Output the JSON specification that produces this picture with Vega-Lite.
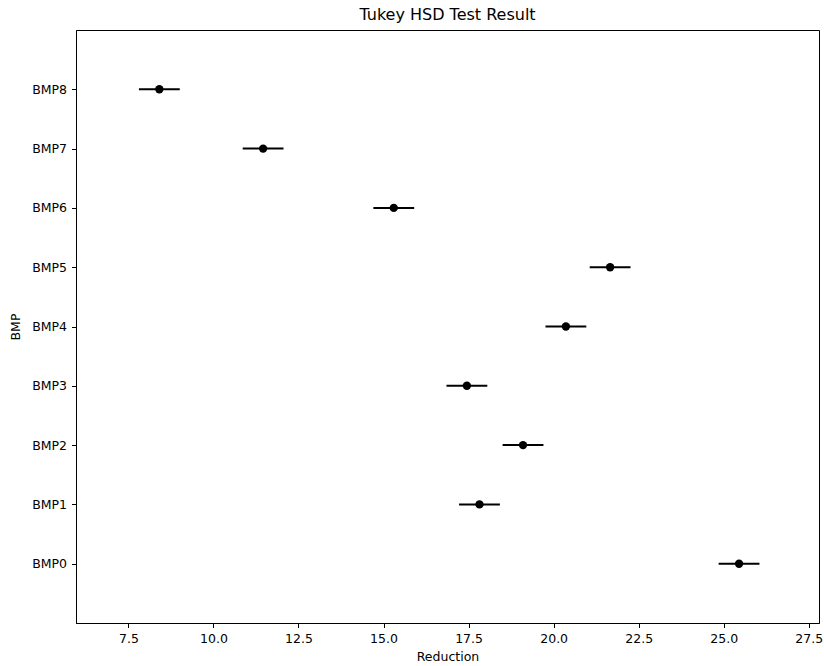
{
  "$schema": "https://vega.github.io/schema/vega-lite/v6.json",
  "autosize": "none",
  "width": 743,
  "height": 593,
  "padding": {"left": 76, "top": 30, "right": 5, "bottom": 43},
  "background": "white",
  "title": {"text": "Tukey HSD Test Result", "fontSize": 16, "fontWeight": "normal", "font": "DejaVu Sans", "color": "black", "offset": 7, "anchor": "middle"},
  "config": {
    "view": {"stroke": "black", "strokeWidth": 1},
    "axis": {"labelFont": "DejaVu Sans", "titleFont": "DejaVu Sans", "labelFontSize": 12.5, "titleFontSize": 12.5, "titleFontWeight": "normal", "labelColor": "black", "titleColor": "black", "domainColor": "black", "tickColor": "black", "grid": false, "tickSize": 4.5, "labelPadding": 5}
  },
  "data": {
    "values": [
      {"BMP": "BMP0", "mean": 25.45, "lo": 24.85, "hi": 26.05},
      {"BMP": "BMP1", "mean": 17.82, "lo": 17.22, "hi": 18.42},
      {"BMP": "BMP2", "mean": 19.1, "lo": 18.5, "hi": 19.7},
      {"BMP": "BMP3", "mean": 17.45, "lo": 16.85, "hi": 18.05},
      {"BMP": "BMP4", "mean": 20.36, "lo": 19.76, "hi": 20.96},
      {"BMP": "BMP5", "mean": 21.66, "lo": 21.06, "hi": 22.26},
      {"BMP": "BMP6", "mean": 15.3, "lo": 14.7, "hi": 15.9},
      {"BMP": "BMP7", "mean": 11.46, "lo": 10.86, "hi": 12.06},
      {"BMP": "BMP8", "mean": 8.41, "lo": 7.81, "hi": 9.01}
    ]
  },
  "encoding": {
    "y": {"field": "BMP", "type": "nominal", "scale": {"type": "point", "padding": 1, "domain": ["BMP8", "BMP7", "BMP6", "BMP5", "BMP4", "BMP3", "BMP2", "BMP1", "BMP0"]}, "axis": {"title": "BMP", "titlePadding": 9}}
  },
  "layer": [
    {
      "mark": {"type": "rule", "color": "black", "strokeWidth": 2},
      "encoding": {
        "x": {"field": "lo", "type": "quantitative", "scale": {"domain": [5.96, 27.8], "nice": false, "zero": false}, "axis": {"title": "Reduction", "values": [7.5, 10, 12.5, 15, 17.5, 20, 22.5, 25, 27.5], "format": ".1f", "titlePadding": 5}},
        "x2": {"field": "hi"}
      }
    },
    {
      "mark": {"type": "circle", "color": "black", "opacity": 1, "size": 70},
      "encoding": {
        "x": {"field": "mean", "type": "quantitative"}
      }
    }
  ]
}
